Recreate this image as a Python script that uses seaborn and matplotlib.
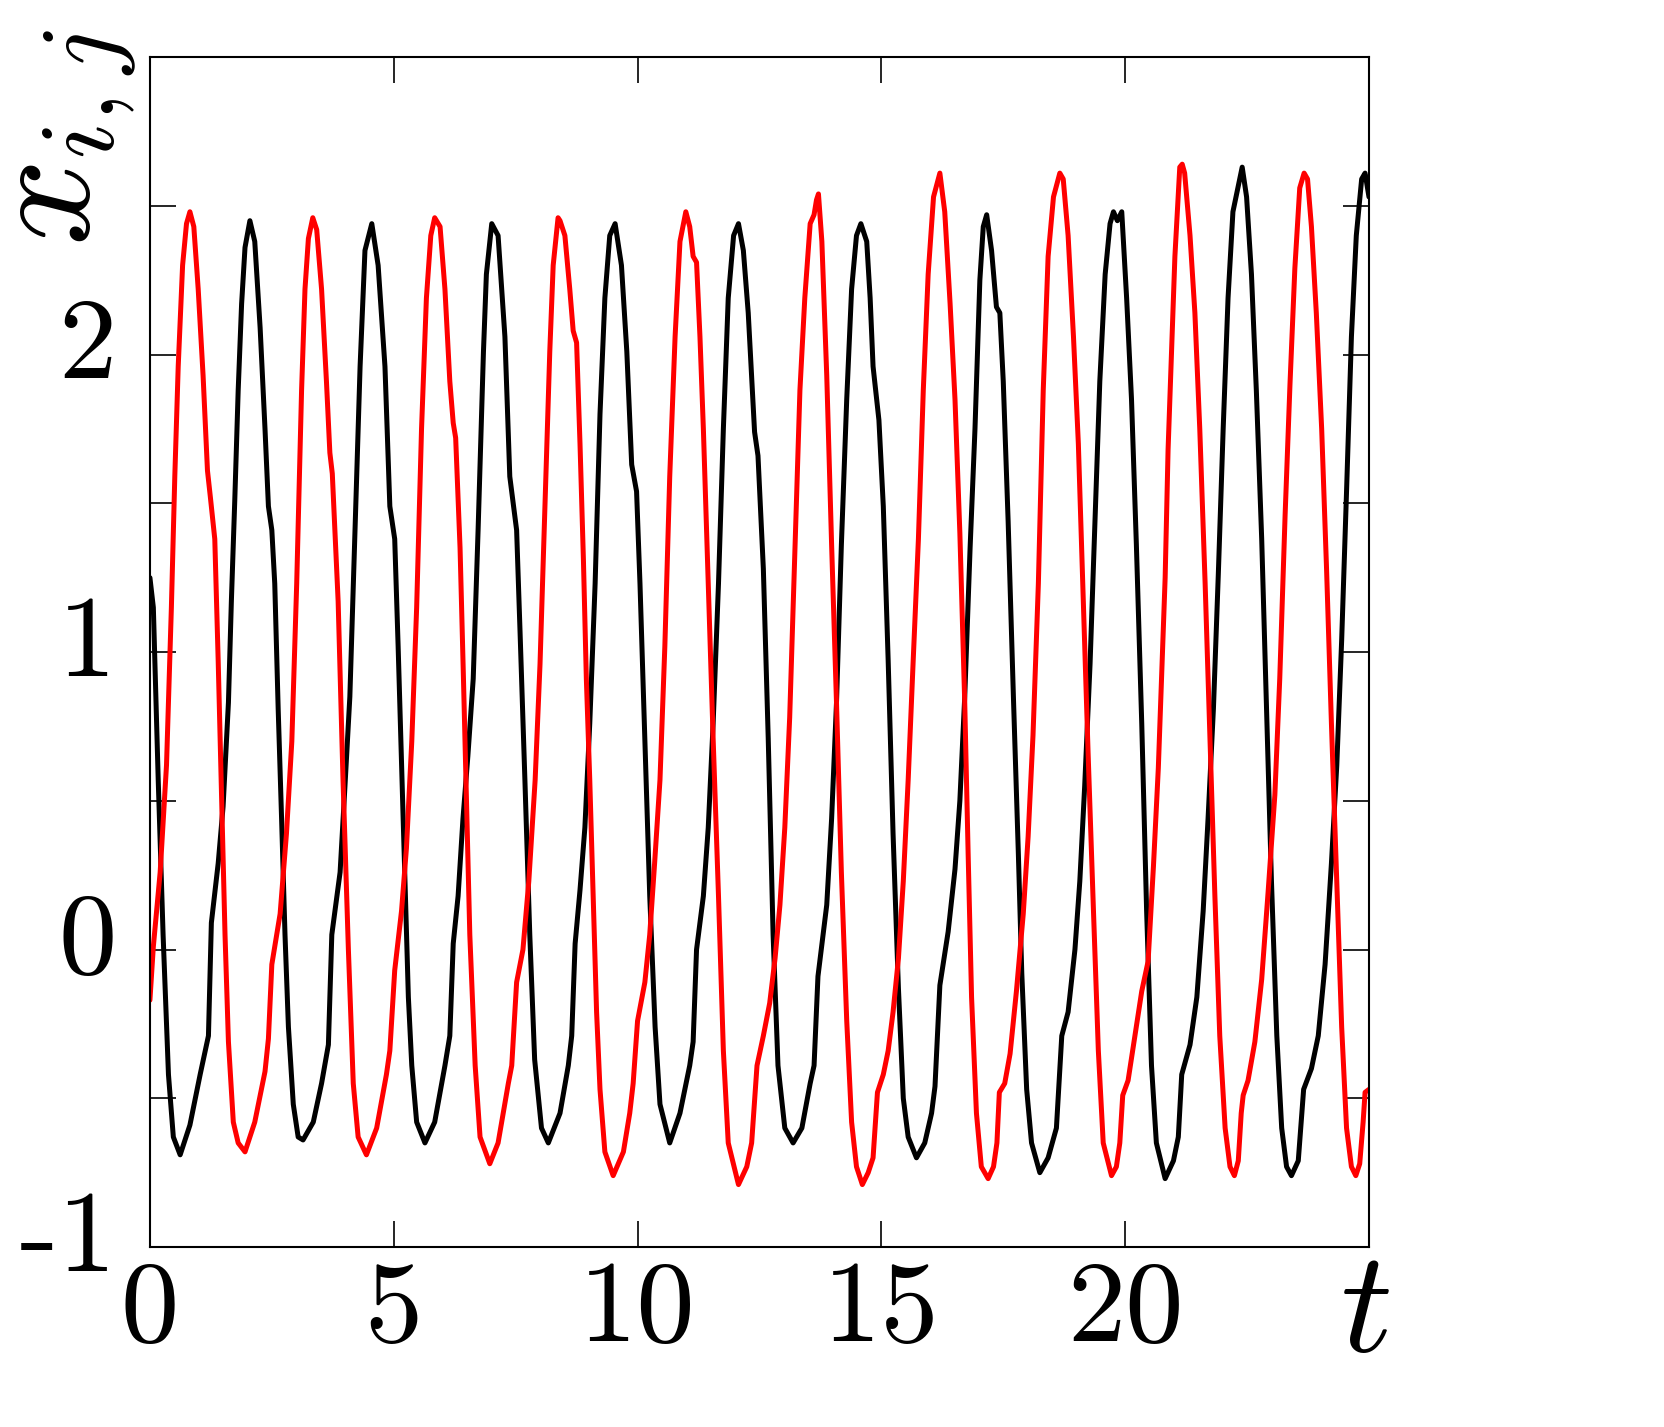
import matplotlib
matplotlib.use('Agg')
import matplotlib.pyplot as plt
import matplotlib.transforms as mtransforms
import pandas as pd
import seaborn as sns

# (t, x), black curve
black = [
    (0.00, 1.25), (0.07, 1.15), (0.17, 0.57), (0.27, 0.05), (0.38, -0.42), (0.48, -0.63),
    (0.62, -0.69), (0.82, -0.59), (1.03, -0.42), (1.20, -0.29), (1.26, 0.09), (1.40, 0.29),
    (1.50, 0.48), (1.61, 0.83), (1.67, 1.17), (1.74, 1.51), (1.81, 1.88), (1.88, 2.17),
    (1.95, 2.36), (2.05, 2.45), (2.15, 2.38), (2.26, 2.09), (2.36, 1.75), (2.43, 1.49),
    (2.50, 1.41), (2.56, 1.23), (2.63, 0.81), (2.70, 0.44), (2.77, 0.05), (2.84, -0.26),
    (2.94, -0.52), (3.04, -0.63), (3.14, -0.64), (3.35, -0.58), (3.52, -0.45), (3.66, -0.32),
    (3.73, 0.05), (3.90, 0.26), (4.00, 0.55), (4.10, 0.85), (4.20, 1.38), (4.31, 1.96),
    (4.41, 2.35), (4.55, 2.44), (4.68, 2.30), (4.82, 1.96), (4.92, 1.49), (5.02, 1.38),
    (5.09, 1.02), (5.16, 0.63), (5.23, 0.23), (5.30, -0.16), (5.37, -0.39), (5.47, -0.58),
    (5.64, -0.65), (5.84, -0.58), (6.05, -0.39), (6.15, -0.29), (6.22, 0.02), (6.32, 0.18),
    (6.42, 0.44), (6.52, 0.65), (6.63, 0.91), (6.73, 1.41), (6.84, 2.01), (6.90, 2.27),
    (7.01, 2.44), (7.14, 2.40), (7.28, 2.06), (7.38, 1.59), (7.45, 1.50), (7.52, 1.41),
    (7.59, 1.07), (7.69, 0.57), (7.79, 0.05), (7.89, -0.37), (8.03, -0.60), (8.17, -0.65),
    (8.41, -0.55), (8.58, -0.39), (8.65, -0.29), (8.72, 0.02), (8.82, 0.20), (8.92, 0.41),
    (9.02, 0.76), (9.13, 1.23), (9.23, 1.80), (9.33, 2.19), (9.43, 2.40), (9.54, 2.44),
    (9.67, 2.30), (9.78, 2.01), (9.88, 1.63), (9.98, 1.54), (10.05, 1.23), (10.15, 0.70),
    (10.25, 0.18), (10.36, -0.26), (10.46, -0.52), (10.66, -0.65), (10.87, -0.55), (11.07, -0.39),
    (11.14, -0.31), (11.21, 0.00), (11.35, 0.18), (11.45, 0.41), (11.55, 0.76), (11.66, 1.23),
    (11.76, 1.75), (11.86, 2.19), (11.97, 2.40), (12.07, 2.44), (12.17, 2.35), (12.27, 2.14),
    (12.40, 1.74), (12.47, 1.66), (12.58, 1.28), (12.68, 0.71), (12.78, 0.05), (12.88, -0.39),
    (13.02, -0.60), (13.19, -0.65), (13.37, -0.60), (13.54, -0.45), (13.62, -0.39), (13.70, -0.09),
    (13.88, 0.15), (13.98, 0.44), (14.08, 0.83), (14.18, 1.36), (14.29, 1.85), (14.39, 2.22),
    (14.49, 2.40), (14.58, 2.44), (14.70, 2.38), (14.77, 2.19), (14.83, 1.96), (14.95, 1.78),
    (15.04, 1.49), (15.14, 0.97), (15.24, 0.39), (15.35, -0.13), (15.45, -0.50), (15.55, -0.63),
    (15.72, -0.70), (15.89, -0.65), (16.03, -0.55), (16.10, -0.46), (16.20, -0.12), (16.37, 0.06),
    (16.51, 0.27), (16.61, 0.50), (16.71, 0.85), (16.82, 1.35), (16.92, 1.75), (17.02, 2.25),
    (17.09, 2.43), (17.16, 2.47), (17.26, 2.35), (17.36, 2.16), (17.43, 2.14), (17.50, 1.91),
    (17.60, 1.44), (17.71, 0.84), (17.81, 0.32), (17.88, -0.08), (17.98, -0.47), (18.08, -0.65),
    (18.25, -0.75), (18.42, -0.70), (18.59, -0.60), (18.70, -0.29), (18.83, -0.21), (18.97, 0.00),
    (19.07, 0.23), (19.17, 0.55), (19.28, 0.96), (19.38, 1.44), (19.48, 1.91), (19.59, 2.27),
    (19.69, 2.44), (19.76, 2.48), (19.84, 2.45), (19.93, 2.48), (20.03, 2.19), (20.13, 1.85),
    (20.23, 1.36), (20.34, 0.76), (20.44, 0.13), (20.54, -0.39), (20.64, -0.65), (20.82, -0.77),
    (20.99, -0.71), (21.09, -0.63), (21.16, -0.42), (21.33, -0.32), (21.47, -0.16), (21.60, 0.13),
    (21.70, 0.44), (21.81, 0.81), (21.91, 1.26), (22.01, 1.75), (22.11, 2.19), (22.21, 2.48),
    (22.40, 2.63), (22.49, 2.53), (22.59, 2.27), (22.69, 1.88), (22.80, 1.38), (22.90, 0.81),
    (23.00, 0.23), (23.11, -0.29), (23.21, -0.60), (23.31, -0.73), (23.41, -0.76), (23.55, -0.71),
    (23.66, -0.47), (23.82, -0.40), (23.96, -0.29), (24.10, -0.05), (24.23, 0.29), (24.34, 0.62),
    (24.44, 1.04), (24.54, 1.54), (24.64, 2.06), (24.74, 2.40), (24.85, 2.59), (24.92, 2.61),
    (25.00, 2.53),
]

# (t, x), red curve
red = [
    (0.00, -0.17), (0.07, 0.01), (0.21, 0.26), (0.34, 0.62), (0.44, 1.15), (0.51, 1.59),
    (0.58, 1.96), (0.67, 2.30), (0.75, 2.44), (0.82, 2.48), (0.90, 2.43), (0.99, 2.22),
    (1.09, 1.93), (1.18, 1.61), (1.24, 1.52), (1.33, 1.38), (1.40, 0.97), (1.47, 0.51),
    (1.54, 0.05), (1.61, -0.31), (1.71, -0.58), (1.81, -0.65), (1.95, -0.68), (2.15, -0.58),
    (2.36, -0.41), (2.43, -0.30), (2.50, -0.05), (2.67, 0.12), (2.80, 0.39), (2.91, 0.70),
    (3.01, 1.23), (3.11, 1.88), (3.18, 2.22), (3.25, 2.39), (3.34, 2.46), (3.42, 2.42),
    (3.52, 2.22), (3.62, 1.91), (3.69, 1.67), (3.74, 1.60), (3.86, 1.17), (3.96, 0.57),
    (4.07, 0.00), (4.17, -0.45), (4.27, -0.63), (4.44, -0.69), (4.65, -0.60), (4.85, -0.42),
    (4.92, -0.34), (5.02, -0.07), (5.16, 0.13), (5.26, 0.34), (5.37, 0.70), (5.47, 1.15),
    (5.57, 1.75), (5.67, 2.19), (5.76, 2.40), (5.84, 2.46), (5.95, 2.43), (6.05, 2.22),
    (6.15, 1.91), (6.22, 1.77), (6.27, 1.72), (6.36, 1.35), (6.43, 0.91), (6.50, 0.44),
    (6.56, 0.05), (6.67, -0.39), (6.77, -0.63), (6.97, -0.72), (7.14, -0.65), (7.35, -0.45),
    (7.42, -0.39), (7.52, -0.11), (7.65, 0.00), (7.77, 0.23), (7.90, 0.57), (8.00, 0.96),
    (8.10, 1.49), (8.20, 2.01), (8.27, 2.30), (8.37, 2.46), (8.41, 2.45), (8.51, 2.40),
    (8.61, 2.22), (8.68, 2.08), (8.75, 2.04), (8.82, 1.70), (8.89, 1.31), (8.95, 0.91),
    (9.02, 0.57), (9.09, 0.18), (9.16, -0.21), (9.23, -0.47), (9.33, -0.68), (9.50, -0.76),
    (9.71, -0.68), (9.84, -0.55), (9.91, -0.45), (10.00, -0.24), (10.15, -0.11), (10.25, 0.05),
    (10.35, 0.29), (10.46, 0.57), (10.56, 1.02), (10.66, 1.59), (10.77, 2.06), (10.87, 2.38),
    (10.99, 2.48), (11.07, 2.43), (11.14, 2.33), (11.21, 2.31), (11.28, 2.06), (11.35, 1.75),
    (11.45, 1.23), (11.55, 0.71), (11.66, 0.18), (11.76, -0.34), (11.86, -0.65), (12.07, -0.79),
    (12.24, -0.73), (12.34, -0.65), (12.45, -0.39), (12.58, -0.29), (12.71, -0.18), (12.82, -0.03),
    (12.92, 0.15), (13.02, 0.41), (13.12, 0.78), (13.23, 1.36), (13.33, 1.88), (13.43, 2.19),
    (13.54, 2.44), (13.62, 2.47), (13.67, 2.52), (13.71, 2.54), (13.78, 2.38), (13.88, 1.93),
    (13.98, 1.36), (14.08, 0.83), (14.18, 0.26), (14.29, -0.24), (14.39, -0.58), (14.49, -0.73),
    (14.61, -0.79), (14.73, -0.75), (14.83, -0.70), (14.92, -0.48), (15.04, -0.42), (15.14, -0.34),
    (15.24, -0.21), (15.35, -0.03), (15.45, 0.23), (15.55, 0.57), (15.65, 0.96), (15.76, 1.38),
    (15.86, 1.88), (15.96, 2.27), (16.07, 2.53), (16.20, 2.61), (16.30, 2.48), (16.41, 2.17),
    (16.51, 1.85), (16.61, 1.40), (16.71, 0.83), (16.78, 0.32), (16.85, -0.16), (16.95, -0.55),
    (17.05, -0.73), (17.19, -0.77), (17.30, -0.73), (17.37, -0.65), (17.42, -0.48), (17.53, -0.45),
    (17.64, -0.35), (17.77, -0.14), (17.91, 0.12), (18.01, 0.38), (18.11, 0.72), (18.22, 1.23),
    (18.32, 1.88), (18.42, 2.33), (18.53, 2.53), (18.66, 2.61), (18.73, 2.59), (18.83, 2.40),
    (18.94, 2.06), (19.04, 1.70), (19.14, 1.18), (19.24, 0.66), (19.35, 0.13), (19.45, -0.34),
    (19.55, -0.65), (19.72, -0.76), (19.82, -0.73), (19.89, -0.65), (19.95, -0.49), (20.06, -0.44),
    (20.20, -0.29), (20.34, -0.14), (20.47, -0.04), (20.58, 0.28), (20.68, 0.61), (20.75, 0.93),
    (20.82, 1.25), (20.88, 1.68), (20.95, 2.00), (21.02, 2.33), (21.12, 2.63), (21.17, 2.64),
    (21.22, 2.61), (21.33, 2.40), (21.43, 2.14), (21.53, 1.75), (21.64, 1.23), (21.74, 0.71),
    (21.84, 0.18), (21.94, -0.29), (22.05, -0.60), (22.15, -0.73), (22.24, -0.76), (22.32, -0.71),
    (22.38, -0.55), (22.42, -0.49), (22.52, -0.44), (22.66, -0.31), (22.80, -0.10), (22.93, 0.19),
    (23.07, 0.52), (23.17, 0.91), (23.28, 1.46), (23.38, 1.90), (23.48, 2.29), (23.58, 2.56),
    (23.67, 2.61), (23.74, 2.59), (23.82, 2.43), (23.92, 2.14), (24.03, 1.75), (24.13, 1.28),
    (24.23, 0.76), (24.34, 0.23), (24.44, -0.26), (24.54, -0.60), (24.64, -0.73), (24.73, -0.76),
    (24.81, -0.72), (24.88, -0.58), (24.92, -0.48), (25.00, -0.47),
]

x_ticks = [0, 5, 10, 15, 20, 25]
x_ticklabels = ['0', '5', '10', '15', '20', '']
y_ticks = [-1, -0.5, 0, 0.5, 1, 1.5, 2, 2.5, 3]
y_ticklabels = ['-1', '', '0', '', '1', '', '2', '', '']

sns.set_theme(style='white')
plt.rcParams['font.family'] = ['cmr10', 'DejaVu Serif']
plt.rcParams['mathtext.fontset'] = 'cm'
plt.rcParams['axes.unicode_minus'] = False
plt.rcParams['text.color'] = 'black'
plt.rcParams['xtick.color'] = 'black'
plt.rcParams['ytick.color'] = 'black'

df = pd.concat([
    pd.DataFrame(black, columns=['t', 'x']).assign(serie='black'),
    pd.DataFrame(red, columns=['t', 'x']).assign(serie='red'),
], ignore_index=True)

fig = plt.figure(figsize=(16.64, 14.27), dpi=100)
ax = fig.add_axes([0.0901, 0.1261, 0.7326, 0.8339])

sns.lineplot(data=df, x='t', y='x', hue='serie', hue_order=['black', 'red'],
             palette={'black': '#000000', 'red': '#ff0000'},
             estimator=None, sort=False, legend=False, linewidth=3.6, ax=ax)

ax.set_xlim(0, 25)
ax.set_ylim(-1, 3)
ax.set_xlabel('')
ax.set_ylabel('')
ax.set_xticks(x_ticks)
ax.set_xticklabels(x_ticklabels)
ax.set_yticks(y_ticks)
ax.set_yticklabels(y_ticklabels)

for s in ax.spines.values():
    s.set_visible(True)
    s.set_color('black')
    s.set_linewidth(1.5)

ax.tick_params(axis='both', which='major', direction='in', length=18.5, width=1.2,
               color='black', labelcolor='black', labelsize=84,
               top=True, right=True, bottom=True, left=True)
ax.tick_params(axis='x', pad=10)
ax.tick_params(axis='y', pad=24)

# etiquetas do eixo y um pouco acima da marca, como no original
offset = mtransforms.ScaledTranslation(0, 12 / 72, fig.dpi_scale_trans)
for lab in ax.get_yticklabels():
    lab.set_transform(lab.get_transform() + offset)

fig.text(0.8203, 0.0785, r'$t$', fontsize=104, ha='center', va='center')
fig.text(0.0425, 0.9040, r'$x_{i,j}$', fontsize=110, ha='center', va='center', rotation=90)

plt.savefig('out.png', dpi=100)
plt.close()
